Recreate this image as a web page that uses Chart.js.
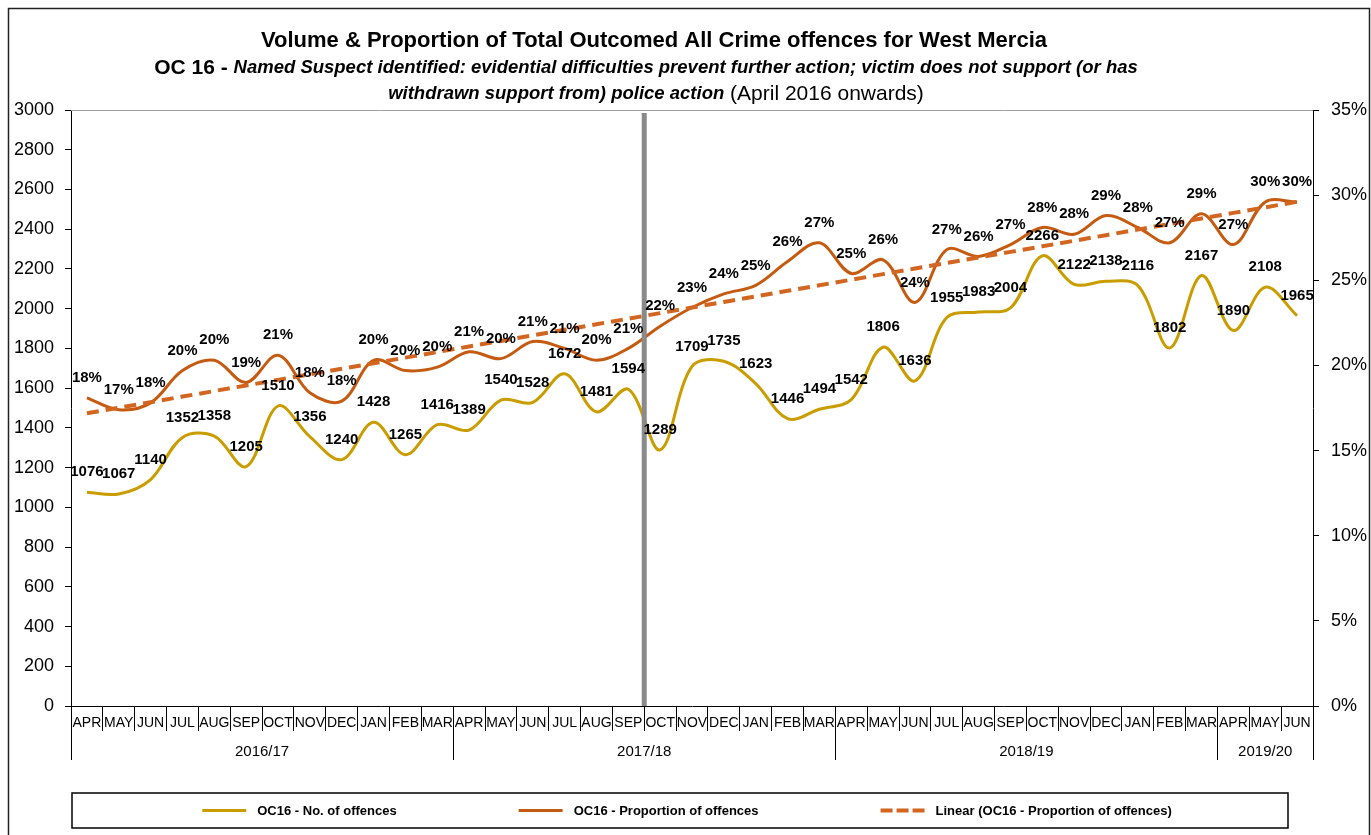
<!DOCTYPE html>
<html>
<head>
<meta charset="utf-8">
<script src="https://cdn.jsdelivr.net/npm/chart.js@4"></script>
<style>
html,body{margin:0;padding:0;background:#fff;}
#wrap{width:1371px;height:835px;position:relative;}
</style>
</head>
<body>
<div id="wrap"><canvas id="c" width="1371" height="835"></canvas></div>
<script>
// ---------- DATA ----------
const months = ['APR','MAY','JUN','JUL','AUG','SEP','OCT','NOV','DEC','JAN','FEB','MAR',
                'APR','MAY','JUN','JUL','AUG','SEP','OCT','NOV','DEC','JAN','FEB','MAR',
                'APR','MAY','JUN','JUL','AUG','SEP','OCT','NOV','DEC','JAN','FEB','MAR',
                'APR','MAY','JUN'];
const years = ['2016/17','2017/18','2018/19','2019/20'];
const yearStarts = [0, 12, 24, 36];
const offences = [1076,1067,1140,1352,1358,1205,1510,1356,1240,1428,1265,1416,
                  1389,1540,1528,1672,1481,1594,1289,1709,1735,1623,1446,1494,
                  1542,1806,1636,1955,1983,2004,2266,2122,2138,2116,1802,2167,
                  1890,2108,1965];
const proportion = [18.1,17.4,17.8,19.7,20.3,19.0,20.6,18.4,17.9,20.3,19.7,19.9,
                    20.8,20.4,21.4,21.0,20.3,21.0,22.3,23.4,24.2,24.7,26.1,27.2,
                    25.4,26.2,23.7,26.8,26.4,27.1,28.1,27.7,28.8,28.1,27.2,28.9,
                    27.1,29.6,29.6];
const markerAfterIndex = 17; // divider between SEP and OCT 2017/18
const leftTicks = {min: 0, max: 3000, step: 200};
const rightTicks = {min: 0, max: 35, step: 5};

const titleLine1 = 'Volume & Proportion of Total Outcomed All Crime offences for West Mercia';
const titleLine2a = 'OC 16 - ';
const titleLine2b = 'Named Suspect identified: evidential difficulties prevent further action; victim does not support (or has';
const titleLine3a = 'withdrawn support from) police action';
const titleLine3b = ' (April 2016 onwards)';
const seriesNames = ['OC16 - No. of offences', 'OC16 - Proportion of offences', 'Linear (OC16 - Proportion of offences)'];

// linear trend (least squares) of the proportion series
const trend = (function(){
  const n = proportion.length;
  let sx=0, sy=0, sxx=0, sxy=0;
  proportion.forEach((v,i)=>{ sx+=i; sy+=v; sxx+=i*i; sxy+=i*v; });
  const b = (n*sxy - sx*sy)/(n*sxx - sx*sx);
  const a = (sy - b*sx)/n;
  return proportion.map((_,i)=> a + b*i);
})();

// ---------- STYLE ----------
const FONT = '"Liberation Sans", Arial, Helvetica, sans-serif';
const GOLD = '#C99C00';
const ORANGE = '#C55A11';
const TREND = '#D2651F';
Chart.defaults.font.family = FONT;
Chart.defaults.color = '#000';

const decor = {
  id: 'decor',
  afterDatasetsDraw(chart){
    const {ctx, chartArea: a, scales: {x}} = chart;
    ctx.save();
    // top plot border
    ctx.strokeStyle = '#a0a0a0'; ctx.lineWidth = 1;
    ctx.beginPath(); ctx.moveTo(a.left, a.top + 0.5); ctx.lineTo(a.right, a.top + 0.5); ctx.stroke();
    // vertical divider
    const mx = (x.getPixelForValue(markerAfterIndex) + x.getPixelForValue(markerAfterIndex + 1)) / 2;
    ctx.strokeStyle = '#8a8a8a'; ctx.lineWidth = 5;
    ctx.beginPath(); ctx.moveTo(mx, a.top + 3); ctx.lineTo(mx, a.bottom); ctx.stroke();
    // data labels
    ctx.font = 'bold 15px ' + FONT; ctx.fillStyle = '#000';
    ctx.textAlign = 'center'; ctx.textBaseline = 'middle';
    [0, 1].forEach(di => {
      const meta = chart.getDatasetMeta(di);
      const ds = chart.data.datasets[di];
      meta.data.forEach((pt, i) => {
        const v = ds.data[i];
        const t = di === 0 ? String(v) : Math.round(v) + '%';
        ctx.fillText(t, pt.x, pt.y - 20);
      });
    });
    ctx.restore();
  },
  afterDraw(chart){
    const {ctx, chartArea: a, scales: {x}} = chart;
    ctx.save();
    // year groups
    const slot = x.getPixelForValue(1) - x.getPixelForValue(0);
    const bounds = yearStarts.concat([months.length]).map(i => x.getPixelForValue(i) - slot / 2);
    ctx.strokeStyle = '#000'; ctx.lineWidth = 1;
    bounds.forEach(b => {
      const bx = Math.round(b) + 0.5;
      ctx.beginPath(); ctx.moveTo(bx, a.bottom); ctx.lineTo(bx, a.bottom + 54); ctx.stroke();
    });
    ctx.font = '15px ' + FONT; ctx.fillStyle = '#000';
    ctx.textAlign = 'center'; ctx.textBaseline = 'middle';
    years.forEach((y, i) => {
      ctx.fillText(y, (bounds[i] + bounds[i + 1]) / 2, a.bottom + 46);
    });
    // legend
    const lt = a.bottom + 87, lb = a.bottom + 122;
    const ll = a.left + 1, lr = a.right - 25;
    ctx.lineWidth = 1.5; ctx.strokeStyle = '#000';
    ctx.strokeRect(ll, lt, lr - ll, lb - lt);
    ctx.font = 'bold 13px ' + FONT;
    const sample = 44, gapText = 11, gapItem = 122;
    const widths = chart.data.datasets.map(ds => sample + gapText + ctx.measureText(ds.label).width);
    const total = widths.reduce((s, w) => s + w, 0) + gapItem * (widths.length - 1);
    let sx = (ll + lr) / 2 + 7 - total / 2;
    const ly = (lt + lb) / 2;
    chart.data.datasets.forEach((ds, i) => {
      ctx.save();
      ctx.strokeStyle = ds.borderColor; ctx.lineWidth = ds.borderWidth;
      ctx.setLineDash(ds.borderDash ? [12, 4] : []);
      ctx.beginPath(); ctx.moveTo(sx, ly); ctx.lineTo(sx + sample, ly); ctx.stroke();
      ctx.restore();
      ctx.textAlign = 'left'; ctx.fillStyle = '#000';
      ctx.fillText(ds.label, sx + sample + gapText, ly + 1);
      sx += widths[i] + gapItem;
    });
    // titles
    const cx = (a.left + a.right) / 2;
    function drawParts(parts, centerX, y){
      let tot = 0;
      parts.forEach(p => { ctx.font = p.f; p.w = ctx.measureText(p.t).width; tot += p.w; });
      let xx = centerX - tot / 2;
      ctx.textAlign = 'left';
      parts.forEach(p => { ctx.font = p.f; ctx.fillText(p.t, xx, y); xx += p.w; });
    }
    ctx.fillStyle = '#000'; ctx.textBaseline = 'middle';
    drawParts([{t: titleLine1, f: 'bold 22px ' + FONT}], cx - 38, 41);
    drawParts([{t: titleLine2a, f: 'bold 21px ' + FONT}, {t: titleLine2b, f: 'italic bold 18.5px ' + FONT}], cx - 46, 68);
    drawParts([{t: titleLine3a, f: 'italic bold 18.5px ' + FONT}, {t: titleLine3b, f: '21px ' + FONT}], cx - 36, 94);
    // outer border
    ctx.lineWidth = 1.5; ctx.strokeStyle = '#222';
    ctx.strokeRect(8.5, 8.5, chart.width - 10, chart.height + 20);
    ctx.restore();
  }
};

new Chart(document.getElementById('c'), {
  type: 'line',
  data: {
    labels: months,
    datasets: [
      {label: seriesNames[0], data: offences, yAxisID: 'y', borderColor: GOLD, backgroundColor: GOLD,
       borderWidth: 3, tension: 0.35, pointRadius: 0, fill: false, order: 2},
      {label: seriesNames[1], data: proportion, yAxisID: 'y1', borderColor: ORANGE, backgroundColor: ORANGE,
       borderWidth: 3, tension: 0.35, pointRadius: 0, fill: false, order: 1},
      {label: seriesNames[2], data: trend, yAxisID: 'y1', borderColor: TREND, backgroundColor: TREND,
       borderWidth: 4, borderDash: [12, 7], tension: 0, pointRadius: 0, fill: false, order: 0}
    ]
  },
  options: {
    responsive: false,
    animation: false,
    layout: {padding: {top: 110, left: 0, right: 0, bottom: 0}},
    plugins: {legend: {display: false}, title: {display: false}, tooltip: {enabled: false}},
    scales: {
      x: {
        offset: true,
        grid: {offset: true, drawOnChartArea: false, tickLength: 25, color: '#000', lineWidth: 1},
        border: {color: '#000', width: 1},
        ticks: {autoSkip: false, maxRotation: 0, minRotation: 0, padding: -16, font: {size: 14}, color: '#000'},
        afterFit: s => { s.height = 129; }
      },
      y: {
        position: 'left', min: leftTicks.min, max: leftTicks.max,
        ticks: {stepSize: leftTicks.step, padding: 11, font: {size: 18}, color: '#000', callback: v => String(v)},
        grid: {drawOnChartArea: false, tickLength: 6, color: '#000'},
        border: {color: '#000', width: 1},
        afterFit: s => { s.width = 71; }
      },
      y1: {
        position: 'right', min: rightTicks.min, max: rightTicks.max,
        ticks: {stepSize: rightTicks.step, padding: 12, font: {size: 18}, color: '#000', callback: v => v + '%'},
        grid: {drawOnChartArea: false, tickLength: 6, color: '#000'},
        border: {color: '#000', width: 1},
        afterFit: s => { s.width = 58; }
      }
    }
  },
  plugins: [decor]
});
</script>
</body>
</html>
